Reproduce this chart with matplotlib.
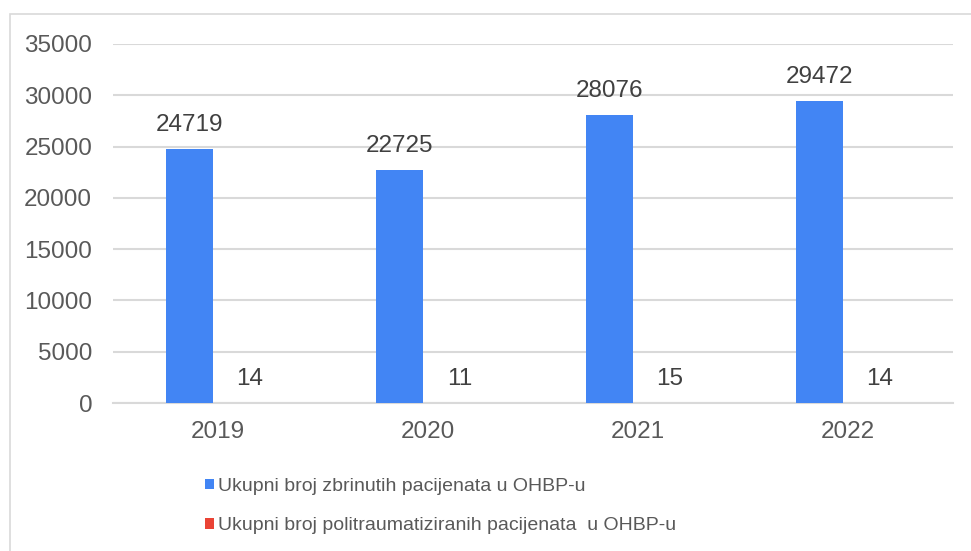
import numpy as np
import matplotlib.pyplot as plt
from matplotlib.patches import Rectangle

years = ['2019', '2020', '2021', '2022']
total = [24719, 22725, 28076, 29472]
poly = [14, 11, 15, 14]
label_total = 'Ukupni broj zbrinutih pacijenata u OHBP-u'
label_poly = 'Ukupni broj politraumatiziranih pacijenata  u OHBP-u'

plt.rcParams['font.family'] = ['Liberation Sans', 'DejaVu Sans']

fig = plt.figure(figsize=(9.71, 5.51), dpi=100)
ax = fig.add_axes([113 / 971, 148 / 551, 840 / 971, 359 / 551])

# outer chart border (right/bottom edges fall outside the image)
fig.patches.append(Rectangle((9.5 / 971, -0.05), 0.999, (537 + 28) / 551,
                             transform=fig.transFigure, fill=False,
                             edgecolor='#d9d9d9', linewidth=1.2))

x = np.arange(len(years))
w = 0.222
shift = -0.024
b1 = ax.bar(x + shift - w / 2, total, w, color='#4285f4', label=label_total, zorder=3)
b2 = ax.bar(x + shift + w / 2, poly, w, color='#ea4335', label=label_poly, zorder=3)

ax.bar_label(b1, padding=9.5, fontsize=17.5, color='#404040')
for ann in ax.bar_label(b2, padding=9.5, fontsize=17.5, color='#404040'):
    ann.xyann = (9.5, 9.5)

ax.set_ylim(0, 35000)
ax.set_xlim(-0.5, 3.5)
ax.set_yticks(np.arange(0, 35001, 5000))
ax.set_xticks(x)
ax.set_xticklabels(years)
ax.tick_params(axis='both', length=0, labelsize=17.5, labelcolor='#595959')
ax.tick_params(axis='x', pad=13)
ax.tick_params(axis='y', pad=15)
ax.grid(axis='y', color='#d9d9d9', linewidth=1.5, zorder=0)
for s in ['top', 'right', 'left']:
    ax.spines[s].set_visible(False)
ax.spines['bottom'].set_color('#d9d9d9')
ax.spines['bottom'].set_linewidth(1.5)

leg = fig.legend(handles=[b1, b2], loc='upper left',
                 bbox_to_anchor=(205 / 971, 1 - 478 / 551),
                 frameon=False, fontsize=14, handlelength=0.45,
                 handleheight=0.45, handletextpad=0.2, labelspacing=1.15,
                 borderaxespad=0, borderpad=0)
for t in leg.get_texts():
    t.set_color('#595959')

fig.savefig('out.png', dpi=100)
